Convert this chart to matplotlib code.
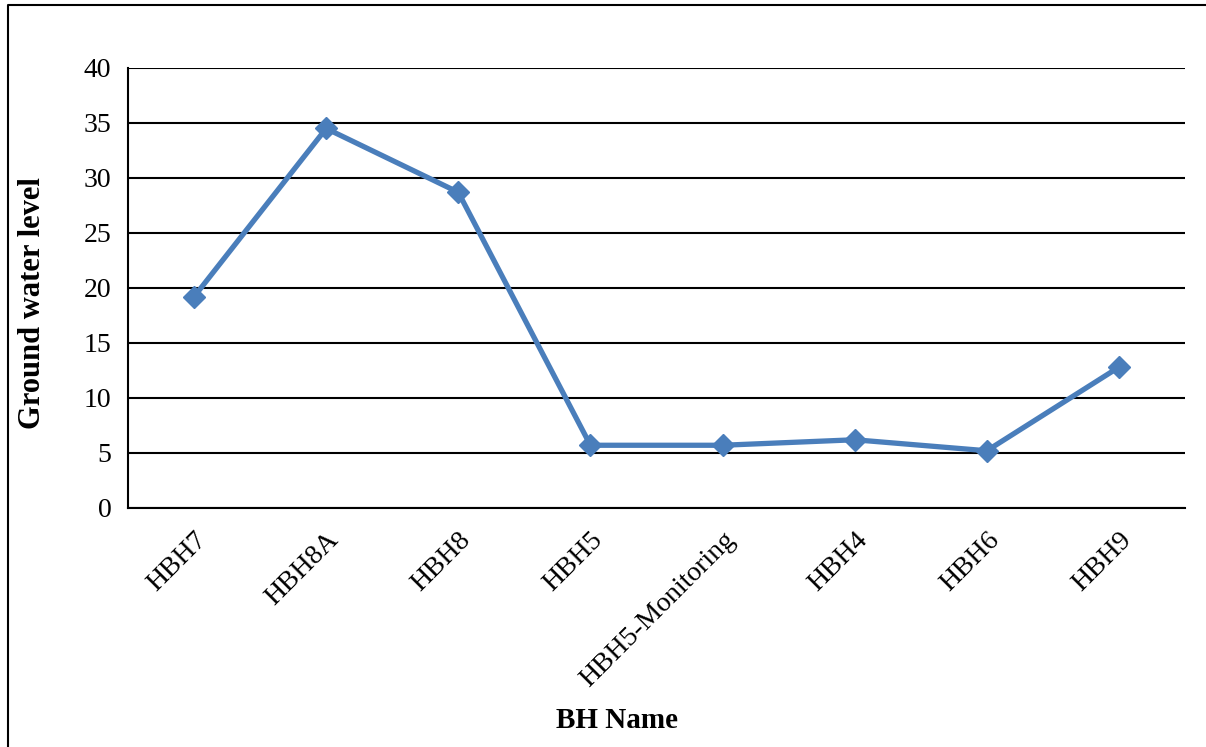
import matplotlib
matplotlib.use("Agg")
import matplotlib.pyplot as plt
from matplotlib.lines import Line2D

# Borehole names and measured ground water levels
bh_names = ["HBH7", "HBH8A", "HBH8", "HBH5", "HBH5-Monitoring", "HBH4", "HBH6", "HBH9"]
water_level = [19.2, 34.5, 28.7, 5.7, 5.7, 6.2, 5.2, 12.8]
y_ticks = [0, 5, 10, 15, 20, 25, 30, 35, 40]

plt.rcParams["font.family"] = ["Liberation Serif", "DejaVu Serif"]

fig = plt.figure(figsize=(12.06, 7.47), dpi=100)
ax = fig.add_axes([0.1061, 0.3200, 0.8765, 0.5890])

x = list(range(len(bh_names)))
ax.plot(x, water_level, color="#4A7EBB", linewidth=3.8, marker="D",
        markersize=11, markerfacecolor="#4A7EBB", markeredgecolor="#4A7EBB",
        zorder=3, solid_joinstyle="round")

ax.set_xlim(-0.5, len(bh_names) - 0.5)
ax.set_ylim(0, 40)
ax.set_yticks(y_ticks)
ax.set_yticklabels([str(v) for v in y_ticks], fontsize=20)
ax.set_xticks(x)
ax.set_xticklabels(bh_names, fontsize=20, rotation=45, ha="right",
                   rotation_mode="anchor")

ax.grid(axis="y", color="black", linewidth=1.5, zorder=1)
ax.set_axisbelow(True)
for side in ("top", "right"):
    ax.spines[side].set_visible(False)
for side in ("left", "bottom"):
    ax.spines[side].set_linewidth(1.5)
    ax.spines[side].set_color("black")
ax.tick_params(axis="both", length=0, pad=12)
ax.tick_params(axis="x", pad=14)

fig.text(33 / 1206, 1 - 303 / 747, "Ground water level", fontsize=22,
         fontweight="bold", rotation=90, ha="center", va="center")
fig.text(0.512, 0.035, "BH Name", fontsize=21, fontweight="bold",
         ha="center", va="center")

# Outer chart frame
fig.add_artist(Line2D([8 / 1206, 8 / 1206, 1.0], [0.0, 1 - 5 / 747, 1 - 5 / 747],
                      transform=fig.transFigure, color="black", linewidth=1.5))

fig.savefig("out.png", dpi=100)
